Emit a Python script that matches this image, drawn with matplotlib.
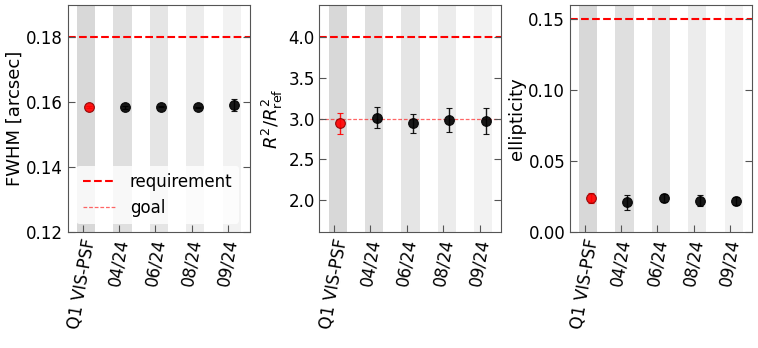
import numpy as np
import matplotlib
matplotlib.use('Agg')
import matplotlib.pyplot as plt

labels = ['Q1 VIS-PSF', '04/24', '06/24', '08/24', '09/24']

fwhm = [0.1585, 0.1584, 0.1587, 0.1584, 0.1592]
fwhm_err = [0.0003, 0.0004, 0.0003, 0.0003, 0.0018]

r2 = [2.94, 3.01, 2.94, 2.98, 2.97]
r2_err = [0.13, 0.13, 0.12, 0.15, 0.16]

ell = [0.0238, 0.0209, 0.0240, 0.0222, 0.0219]
ell_err = [0.0035, 0.0055, 0.0025, 0.0037, 0.0030]

requirement = [0.18, 4.0, 0.15]
goal = [None, 3.0, None]
ylims = [(0.12, 0.19), (1.6, 4.4), (0.0, 0.16)]
yticks = [[0.12, 0.14, 0.16, 0.18], [2.0, 2.5, 3.0, 3.5, 4.0], [0.0, 0.05, 0.10, 0.15]]
ytickfmt = ['%.2f', '%.1f', '%.2f']
ylabels = ['FWHM [arcsec]', r'$R^2/R^2_{\rm ref}$', 'ellipticity']
band_alpha = [0.3, 0.25, 0.2, 0.15, 0.1]

fig = plt.figure(figsize=(7.58, 3.48), dpi=100)
lefts = [0.0897, 0.4215, 0.752]
width = 0.240
bottom, top = 0.3333, 0.9856

values = [fwhm, r2, ell]
errors = [fwhm_err, r2_err, ell_err]
x = np.arange(len(labels))

for k in range(3):
    ax = fig.add_axes([lefts[k], bottom, width, top - bottom])
    for i in x:
        ax.axvspan(i - 0.15, i + 0.35, color='gray', alpha=band_alpha[i], lw=0, zorder=0)
    req = ax.axhline(requirement[k], color='red', ls='--', lw=1.5, label='requirement', zorder=1)
    gl_val = goal[k] if goal[k] is not None else -10
    gl = ax.axhline(gl_val, color='red', ls='--', lw=0.9, alpha=0.6,
                    dashes=(3, 1.5), label='goal', zorder=1)
    for i in x:
        c = 'red' if i == 0 else 'black'
        ax.errorbar(i + 0.17, values[k][i], yerr=errors[k][i], fmt='o', ms=7,
                    mfc=c, mec='black' if i else 'darkred', mew=0.8, alpha=0.9,
                    ecolor=c, elinewidth=1, capsize=2, capthick=1, zorder=3)
    ax.set_xlim(-0.4, 4.6)
    ax.set_ylim(*ylims[k])
    ax.set_yticks(yticks[k])
    ax.set_yticklabels([ytickfmt[k] % v for v in yticks[k]])
    ax.set_xticks(x)
    ax.set_xticklabels(labels, rotation=80, ha='center')
    ax.tick_params(direction='in', which='both', labelsize=12, length=5,
                   right=True, top=False, color='#555555')
    for s in ax.spines.values():
        s.set_color('#555555')
    ax.set_ylabel(ylabels[k], fontsize=13, labelpad=2)
    if k == 0:
        ax.legend(handles=[req, gl], loc='lower left', fontsize=12,
                  frameon=True, edgecolor='none', framealpha=0.8)

fig.savefig('out.png', dpi=100)
